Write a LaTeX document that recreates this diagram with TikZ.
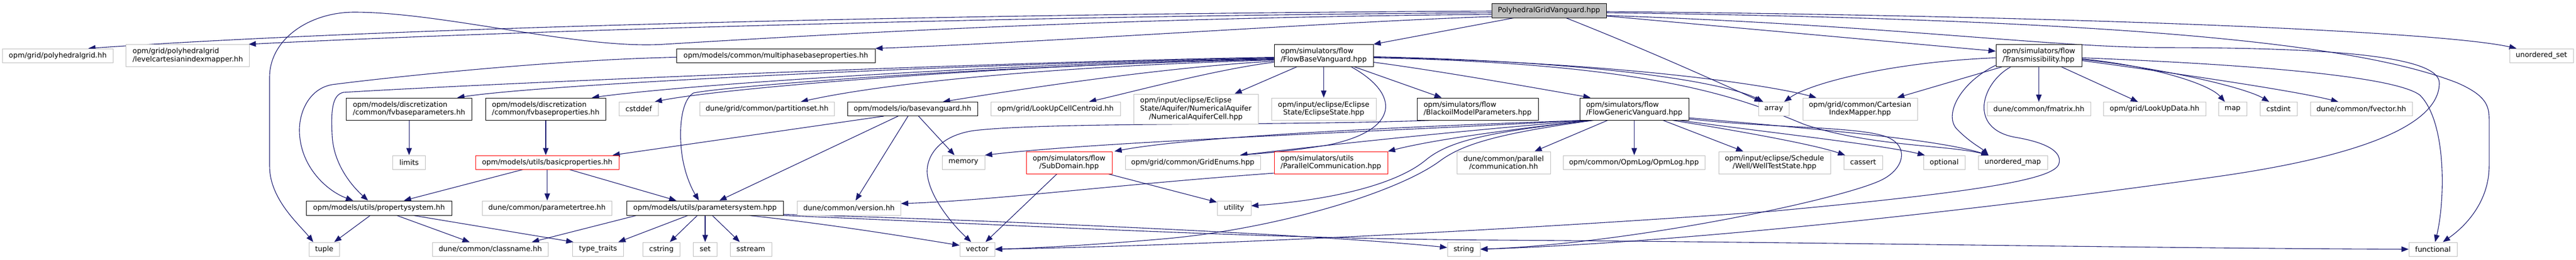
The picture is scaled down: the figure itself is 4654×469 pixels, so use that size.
\documentclass[tikz,border=0pt]{standalone}
\usepackage{fontspec}
\setmainfont{DejaVu Sans}
\usetikzlibrary{arrows.meta}
\definecolor{edgec}{HTML}{191970}
\definecolor{gborder}{HTML}{BFBFBF}
\definecolor{rootfill}{HTML}{BFBFBF}
\newcommand\dxfont{\fontsize{12.9}{14.6}\selectfont}
\pgfdeclarelayer{bg}
\pgfsetlayers{bg,main}
\tikzset{
  bx/.style={draw=black, fill=white, line width=1pt, inner sep=0pt, font=\dxfont, align=center},
  gb/.style={bx, draw=gborder},
  rb/.style={bx, draw=red},
  rt/.style={bx, fill=rootfill},
  sa/.style={minimum height=25pt},
  sb/.style={minimum height=40pt},
  sc/.style={minimum height=54pt},
  ed/.style={draw=edgec, line width=1.1pt, -{Triangle[length=13pt,width=10pt]}},
}
\begin{document}
\begin{tikzpicture}[x=1pt,y=-1pt]
\useasboundingbox (0,0) rectangle (4654,469);
% row 0
\node[rt, sa, minimum width=207pt, minimum height=26pt] (R) at (2798.5,19) {PolyhedralGridVanguard.hpp};
% row 1
\node[gb, sa, minimum width=199.4pt] (pg) at (104.3,100.5) {opm/grid/polyhedralgrid.hh};
\node[gb, sb, minimum width=223pt, align=left] (lci) at (339.3,100.5) {opm/grid/polyhedralgrid\\/levelcartesianindexmapper.hh};
\node[bx, sa, minimum width=358.7pt] (mbp) at (1401.7,100.5) {opm/models/common/multiphasebaseproperties.hh};
\node[bx, sb, minimum width=179pt, align=left] (fbv) at (2391.5,100.5) {opm/simulators/flow\\/FlowBaseVanguard.hpp};
\node[bx, sb, minimum width=155pt, align=left] (tr) at (3683.5,100.5) {opm/simulators/flow\\/Transmissibility.hpp};
\node[gb, sa, minimum width=115pt] (uset) at (4591.5,100.5) {unordered\_set};
% row 2
\node[bx, sb, minimum width=227pt, align=left] (fvbpar) at (739.1,197) {opm/models/discretization\\/common/fvbaseparameters.hh};
\node[bx, sb, minimum width=217.7pt, align=left] (fvbprop) at (986,197) {opm/models/discretization\\/common/fvbaseproperties.hh};
\node[gb, sa, minimum width=70.8pt] (cstddef) at (1154,197) {cstddef};
\node[gb, sa, minimum width=242.7pt] (partset) at (1385.7,197) {dune/grid/common/partitionset.hh};
\node[bx, sa, minimum width=235pt] (bvg) at (1648.5,197) {opm/models/io/basevanguard.hh};
\node[gb, sa, minimum width=234pt] (lucc) at (1907,197) {opm/grid/LookUpCellCentroid.hh};
\node[gb, sc, minimum width=225pt, align=left] (nac) at (2160.5,197) {opm/input/eclipse/Eclipse\\State/Aquifer/NumericalAquifer\\\hspace*{16pt}/NumericalAquiferCell.hpp};
\node[gb, sb, minimum width=189pt] (es) at (2391.5,197) {opm/input/eclipse/Eclipse\\State/EclipseState.hpp};
\node[bx, sb, minimum width=219pt, align=left] (bmp) at (2669.5,197) {opm/simulators/flow\\/BlackoilModelParameters.hpp};
\node[bx, sb, minimum width=197pt, align=left] (fgv) at (2952.5,197) {opm/simulators/flow\\/FlowGenericVanguard.hpp};
\node[gb, sa, minimum width=55pt] (narray) at (3204.5,197) {array};
\node[gb, sb, minimum width=207pt] (cim) at (3360.5,197) {opm/grid/common/Cartesian\\IndexMapper.hpp};
\node[gb, sa, minimum width=187pt] (fmatrix) at (3683.5,197) {dune/common/fmatrix.hh};
\node[gb, sa, minimum width=185pt] (lud) at (3892.5,197) {opm/grid/LookUpData.hh};
\node[gb, sa, minimum width=51pt] (nmap) at (4033.5,197) {map};
\node[gb, sa, minimum width=67pt] (cstdint) at (4116.5,197) {cstdint};
\node[gb, sa, minimum width=184pt] (fvector) at (4266,197) {dune/common/fvector.hh};
% row 3
\node[gb, sa, minimum width=58.6pt] (limits) at (739.1,293.5) {limits};
\node[rb, sa, minimum width=259pt] (bp) at (988.7,293.5) {opm/models/utils/basicproperties.hh};
\node[gb, sa, minimum width=77pt] (memory) at (1740.5,293.5) {memory};
\node[rb, sb, minimum width=155pt] (sd) at (1931.5,294) {opm/simulators/flow\\/SubDomain.hpp};
\node[gb, sa, minimum width=244pt] (ge) at (2155,293.5) {opm/grid/common/GridEnums.hpp};
\node[rb, sb, minimum width=205pt, align=left] (pc) at (2404.5,294) {opm/simulators/utils\\/ParallelCommunication.hpp};
\node[gb, sb, minimum width=169pt] (dpc) at (2716.5,294) {dune/common/parallel\\/communication.hh};
\node[gb, sa, minimum width=256pt] (opmlog) at (2952,293.5) {opm/common/OpmLog/OpmLog.hpp};
\node[gb, sb, minimum width=202pt] (wts) at (3206,294) {opm/input/eclipse/Schedule\\/Well/WellTestState.hpp};
\node[gb, sa, minimum width=70pt] (cassert) at (3366,293.5) {cassert};
\node[gb, sa, minimum width=75pt] (optional) at (3512.5,293.5) {optional};
\node[gb, sa, minimum width=125pt] (umap) at (3636.5,293.5) {unordered\_map};
% row 4
\node[bx, sa, minimum width=262.6pt, minimum height=26pt] (ps) at (684.7,376) {opm/models/utils/propertysystem.hh};
\node[gb, sa, minimum width=234pt, minimum height=26pt] (ptree) at (988.3,376) {dune/common/parametertree.hh};
\node[bx, sa, minimum width=282.7pt, minimum height=26pt] (pss) at (1273.7,376) {opm/models/utils/parametersystem.hpp};
\node[gb, sa, minimum width=187pt, minimum height=26pt] (version) at (1533.8,376) {dune/common/version.hh};
\node[gb, sa, minimum width=61pt, minimum height=26pt] (utility) at (2229.5,376) {utility};
% row 5
\node[gb, sa, minimum width=55pt] (ntuple) at (585.9,450.5) {tuple};
\node[gb, sa, minimum width=209.4pt] (classname) at (885.7,450.5) {dune/common/classname.hh};
\node[gb, sa, minimum width=92.2pt] (tt) at (1080.5,450.5) {type\_traits};
\node[gb, sa, minimum width=67.3pt] (cstring) at (1195,450.5) {cstring};
\node[gb, sa, minimum width=43.4pt] (nset) at (1274,450.5) {set};
\node[gb, sa, minimum width=75pt] (sstream) at (1356.5,450.5) {sstream};
\node[gb, sa, minimum width=63pt] (nvector) at (1765.5,450.5) {vector};
\node[gb, sa, minimum width=59pt] (nstring) at (2644.5,450.5) {string};
\node[gb, sa, minimum width=87pt] (functional) at (4395.5,450.5) {functional};

\begin{pgfonlayer}{bg}
\fill[white] (0,0) rectangle (4654,469);
% root
\draw[ed] ([yshift=-1pt]R.west) .. controls (1700,25) and (700,50) .. ([xshift=-45pt]pg.north east);
\draw[ed] ([yshift=-4pt]R.west) .. controls (1700,30) and (800,62) .. ([xshift=-2pt]lci.north east);
\draw[ed] ([yshift=-7pt]R.west) .. controls (2000,32) and (1500,62) .. (1200,80) .. controls (1050,90) and (800,22) .. (640,22) .. controls (560,22) and (487,70) .. (487,140) -- (487,300) .. controls (487,360) and (540,405) .. ([xshift=8pt]ntuple.north west);
\draw[ed] ([yshift=-11pt]R.west) .. controls (2400,40) and (1900,76) .. (mbp.north east);
\draw[ed] ([xshift=40pt]R.south west) -- (fbv.north east);
\draw[ed] ([xshift=135pt]R.south west) .. controls (3000,100) and (3140,165) .. ([xshift=6pt]narray.north west);
\draw[ed] ([yshift=-10pt]R.east) -- ([yshift=8pt]tr.west);
\draw[ed] ([yshift=-2pt]R.east) .. controls (3700,28) and (4400,55) .. ([xshift=13pt]uset.north west);
\draw[ed] ([yshift=-4pt]R.east) .. controls (3800,35) and (4250,75) .. (4440,150) .. controls (4490,172) and (4497,190) .. (4497,215) -- (4497,300) .. controls (4497,360) and (4460,405) .. ([xshift=-26pt]functional.north east);
\draw[ed] ([yshift=-9pt]R.east) .. controls (3400,45) and (3700,85) .. (3900,86) .. controls (4200,86) and (4407,100) .. (4407,150) .. controls (4407,230) and (4250,285) .. (4000,320) .. controls (3500,390) and (3000,440) .. (nstring.east);
% mbp
\draw[ed] ([yshift=-3pt]mbp.west) .. controls (1000,108) and (700,140) .. (600,153) .. controls (560,160) and (541,200) .. (541,235) .. controls (541,300) and (590,345) .. ([xshift=85pt]ps.north west);
% fbv left
\draw[ed] ([yshift=-3pt]fbv.west) .. controls (1800,112) and (900,150) .. (620,167) .. controls (600,172) and (598,200) .. (600,243) .. controls (602,300) and (640,340) .. ([xshift=112pt]ps.north west);
\draw[ed] ([yshift=-4pt]fbv.west) .. controls (1800,114) and (1000,150) .. ([xshift=-27pt]fvbpar.north east);
\draw[ed] ([yshift=-5pt]fbv.west) .. controls (1800,116) and (1250,152) .. ([xshift=-26pt]fvbprop.north east);
\draw[ed] ([yshift=-6pt]fbv.west) .. controls (1800,118) and (1300,160) .. ([xshift=-7pt]cstddef.north east);
\draw[ed] ([yshift=-7pt]fbv.west) .. controls (1800,118) and (1320,155) .. (1253,168) .. controls (1225,185) and (1226,260) .. (1236,300) .. controls (1243,330) and (1255,350) .. ([xshift=-11pt]pss.north);
\draw[ed] ([yshift=-8pt]fbv.west) .. controls (1900,120) and (1600,150) .. ([xshift=61pt]partset.north);
\draw[ed] ([yshift=-10pt]fbv.west) .. controls (2100,122) and (1850,160) .. ([xshift=-63pt]bvg.north east);
\draw[ed] ([yshift=-12pt]fbv.west) .. controls (2200,125) and (2050,165) .. ([xshift=-57pt]lucc.north east);
% fbv bottom
\draw[ed] ([xshift=41pt]fbv.south west) -- ([xshift=-43pt]nac.north east);
\draw[ed] (fbv.south) -- (es.north);
\draw[ed] ([xshift=140pt]fbv.south west) .. controls (2530,170) and (2530,235) .. (2400,262) .. controls (2320,275) and (2270,278) .. ([xshift=-37pt]ge.north east);
\draw[ed] ([xshift=146pt]fbv.south west) -- ([xshift=45pt]bmp.north west);
% fbv right
\draw[ed] ([yshift=-12pt]fbv.east) .. controls (2600,128) and (2780,160) .. ([xshift=20pt]fgv.north west);
\draw[ed] ([yshift=-2pt]fbv.east) .. controls (2900,112) and (3120,150) .. ([xshift=9pt]narray.north west);
\draw[ed] ([yshift=-3pt]fbv.east) .. controls (2900,112) and (3180,150) .. ([xshift=25pt]cim.north west);
\draw[ed] ([yshift=-4pt]fbv.east) .. controls (3000,115) and (3150,180) .. (3260,225) .. controls (3380,265) and (3520,262) .. ([xshift=19pt]umap.north west);
% discretization
\draw[ed] (fvbpar.south) -- (fvbpar.south |- limits.north);
\draw[ed] (fvbprop.south) -- (fvbprop.south |- bp.north);
% basevanguard
\draw[ed] ([xshift=66pt]bvg.south west) -- ([xshift=-12pt]bp.north east);
\draw[ed] ([xshift=92pt]bvg.south west) -- ([xshift=26pt]pss.north);
\draw[ed] ([xshift=110pt]bvg.south west) -- ([xshift=12pt]version.north);
\draw[ed] ([xshift=129pt]bvg.south west) -- ([xshift=23pt]memory.north west);
% basicproperties
\draw[ed] ([xshift=-44pt]bp.south) -- ([xshift=45pt]ps.north);
\draw[ed] (bp.south) -- (bp.south |- ptree.north);
\draw[ed] ([xshift=40pt]bp.south) -- ([xshift=90pt]pss.north west);
% propertysystem
\draw[ed] ([xshift=116pt]ps.south west) -- ([xshift=-10pt]ntuple.north east);
\draw[ed] ([xshift=164pt]ps.south west) -- ([xshift=68pt]classname.north west);
\draw[ed] ([xshift=194pt]ps.south west) -- ([xshift=2pt]tt.north west);
% parametersystem
\draw[ed] ([xshift=18pt]pss.south west) -- ([xshift=-30pt]classname.north east);
\draw[ed] ([xshift=111pt]pss.south west) -- ([xshift=-10pt]tt.north east);
\draw[ed] ([xshift=128pt]pss.south west) -- ([xshift=-19pt]cstring.north east);
\draw[ed] (nset.north |- pss.south) -- (nset.north);
\draw[ed] ([xshift=155pt]pss.south west) -- ([xshift=18pt]sstream.north west);
\draw[ed] ([xshift=221pt]pss.south west) .. controls (1500,405) and (1650,430) .. ([yshift=7pt]nvector.west);
\draw[ed] ([yshift=2pt]pss.south east) .. controls (1800,398) and (2400,425) .. ([yshift=3pt]nstring.west);
\draw[ed] (pss.south east) .. controls (1900,410) and (2300,432) .. (2700,434) .. controls (3300,438) and (3900,449) .. (functional.west);
% subdomain, parallel
\draw[ed] ([xshift=56pt]sd.south west) -- ([xshift=-17pt]nvector.north east);
\draw[ed] ([xshift=-7pt]sd.south east) -- ([yshift=-3pt]utility.north west);
\draw[ed] ([yshift=-19pt]pc.west) .. controls (2000,335) and (1800,362) .. ([yshift=8pt]version.east);
% blackoil
\draw[ed] ([xshift=27pt]bmp.south west) .. controls (2300,228) and (1900,220) .. (1760,236) .. controls (1690,246) and (1670,290) .. (1676,320) .. controls (1683,360) and (1720,405) .. ([xshift=21pt]nvector.north west);
% generic vanguard
\draw[ed] ([xshift=51pt]fgv.south west) -- ([xshift=-29pt]dpc.north east);
\draw[ed] (fgv.south) -- (fgv.south |- opmlog.north);
\draw[ed] ([xshift=151pt]fgv.south west) -- ([xshift=45pt]wts.north west);
\draw[ed] ([xshift=168pt]fgv.south west) .. controls (3150,238) and (3280,262) .. ([xshift=3pt]cassert.north west);
\draw[ed] ([xshift=180pt]fgv.south west) .. controls (3200,240) and (3400,262) .. ([xshift=3pt]optional.north west);
\draw[ed] ([yshift=-16pt]fgv.east) .. controls (3300,235) and (3500,252) .. ([xshift=19pt]umap.north west);
\draw[ed] ([yshift=-18pt]fgv.east) .. controls (3200,232) and (3360,228) .. (3410,248) .. controls (3450,265) and (3440,305) .. (3400,325) .. controls (3330,360) and (2950,440) .. (nstring.east);
\draw[ed] ([xshift=6pt]fgv.south west) .. controls (2500,238) and (2000,255) .. (memory.north east);
\draw[ed] ([xshift=10pt]fgv.south west) .. controls (2500,230) and (2150,248) .. ([xshift=4pt]sd.north east);
\draw[ed] ([xshift=14pt]fgv.south west) .. controls (2600,240) and (2400,262) .. ([xshift=-37pt]ge.north east);
\draw[ed] ([xshift=18pt]fgv.south west) .. controls (2750,232) and (2600,250) .. (pc.north east);
\draw[ed] ([xshift=22pt]fgv.south west) .. controls (2700,238) and (2620,252) .. (2575,290) .. controls (2520,335) and (2400,362) .. ([yshift=4pt]utility.east);
\draw[ed] ([xshift=26pt]fgv.south west) .. controls (2700,242) and (2640,262) .. (2600,292) .. controls (2520,350) and (2300,415) .. (2100,432) .. controls (1950,445) and (1850,449) .. (nvector.east);
% transmissibility
\draw[ed] ([yshift=-4pt]tr.west) .. controls (3420,112) and (3270,150) .. ([xshift=-9pt]narray.north east);
\draw[ed] ([xshift=11pt]tr.south west) -- ([xshift=-37pt]cim.north east);
\draw[ed] ([yshift=3pt]tr.south west) .. controls (3540,150) and (3510,210) .. (3537,235) .. controls (3560,258) and (3580,268) .. ([xshift=19pt]umap.north west);
\draw[ed] ([xshift=27pt]tr.south west) .. controls (3580,150) and (3555,232) .. (3640,248) .. controls (3700,258) and (3725,275) .. (3720,295) .. controls (3715,322) and (3600,345) .. (3200,382) .. controls (2600,425) and (2100,445) .. (nvector.east);
\draw[ed] (tr.south) -- (fmatrix.north);
\draw[ed] ([xshift=119pt]tr.south west) -- ([xshift=63pt]lud.north west);
\draw[ed] ([yshift=-6pt]tr.east) .. controls (3880,118) and (3990,150) .. ([xshift=12pt]nmap.north west);
\draw[ed] ([yshift=-7pt]tr.east) .. controls (3920,125) and (4060,160) .. ([xshift=17pt]cstdint.north west);
\draw[ed] ([yshift=-9pt]tr.east) .. controls (3950,135) and (4150,165) .. ([xshift=51pt]fvector.north west);
\draw[ed] ([yshift=-4pt]tr.east) .. controls (4100,118) and (4330,140) .. (4372,172) .. controls (4420,220) and (4418,360) .. ([xshift=48pt]functional.north west);
\end{pgfonlayer}
\end{tikzpicture}
\end{document}
